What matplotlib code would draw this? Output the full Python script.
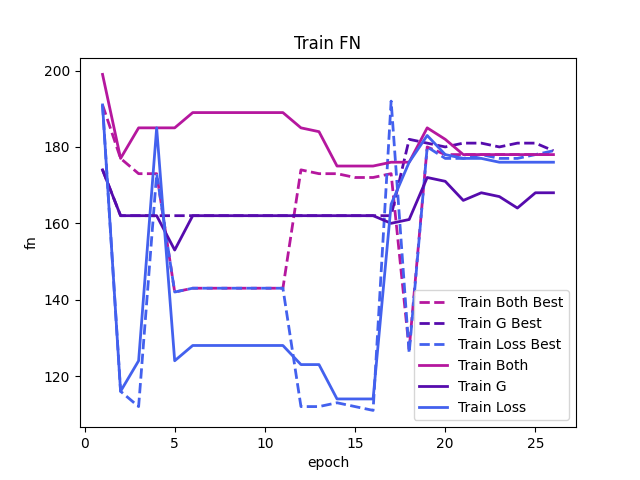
import matplotlib
matplotlib.use('Agg')
import matplotlib.pyplot as plt

epochs = list(range(1, 27))

# best-so-far curves (dashed)
train_both_best = [191, 177, 173, 173, 142, 143, 143, 143, 143, 143, 143, 174, 173,
                   173, 172, 172, 173, 127, 180, 178, 178, 178, 178, 178, 178, 178]
train_g_best = [174, 162, 162, 162, 162, 162, 162, 162, 162, 162, 162, 162, 162,
                162, 162, 162, 162, 182, 181, 180, 181, 181, 180, 181, 181, 179]
train_loss_best = [191, 116, 112, 173, 142, 143, 143, 143, 143, 143, 143, 112, 112,
                   113, 112, 111, 192, 126, 180, 177, 177, 178, 177, 177, 178, 179]

# per-epoch curves (solid)
train_both = [199, 177, 185, 185, 185, 189, 189, 189, 189, 189, 189, 185, 184,
              175, 175, 175, 176, 176, 185, 182, 178, 178, 178, 178, 178, 178]
train_g = [174, 162, 162, 162, 153, 162, 162, 162, 162, 162, 162, 162, 162,
           162, 162, 162, 160, 161, 172, 171, 166, 168, 167, 164, 168, 168]
train_loss = [191, 116, 124, 185, 124, 128, 128, 128, 128, 128, 128, 123, 123,
              114, 114, 114, 165, 176, 183, 178, 177, 177, 176, 176, 176, 176]

c_both = '#b5179e'
c_g = '#560bad'
c_loss = '#4361ee'

fig, ax = plt.subplots(figsize=(6.4, 4.8), dpi=100)
ax.plot(epochs, train_both_best, '--', color=c_both, lw=2, label='Train Both Best')
ax.plot(epochs, train_g_best, '--', color=c_g, lw=2, label='Train G Best')
ax.plot(epochs, train_loss_best, '--', color=c_loss, lw=2, label='Train Loss Best')
ax.plot(epochs, train_both, '-', color=c_both, lw=2, label='Train Both')
ax.plot(epochs, train_g, '-', color=c_g, lw=2, label='Train G')
ax.plot(epochs, train_loss, '-', color=c_loss, lw=2, label='Train Loss')
ax.set_title('Train FN')
ax.set_xlabel('epoch')
ax.set_ylabel('fn')
ax.legend(loc='lower right')
fig.savefig('out.png')
